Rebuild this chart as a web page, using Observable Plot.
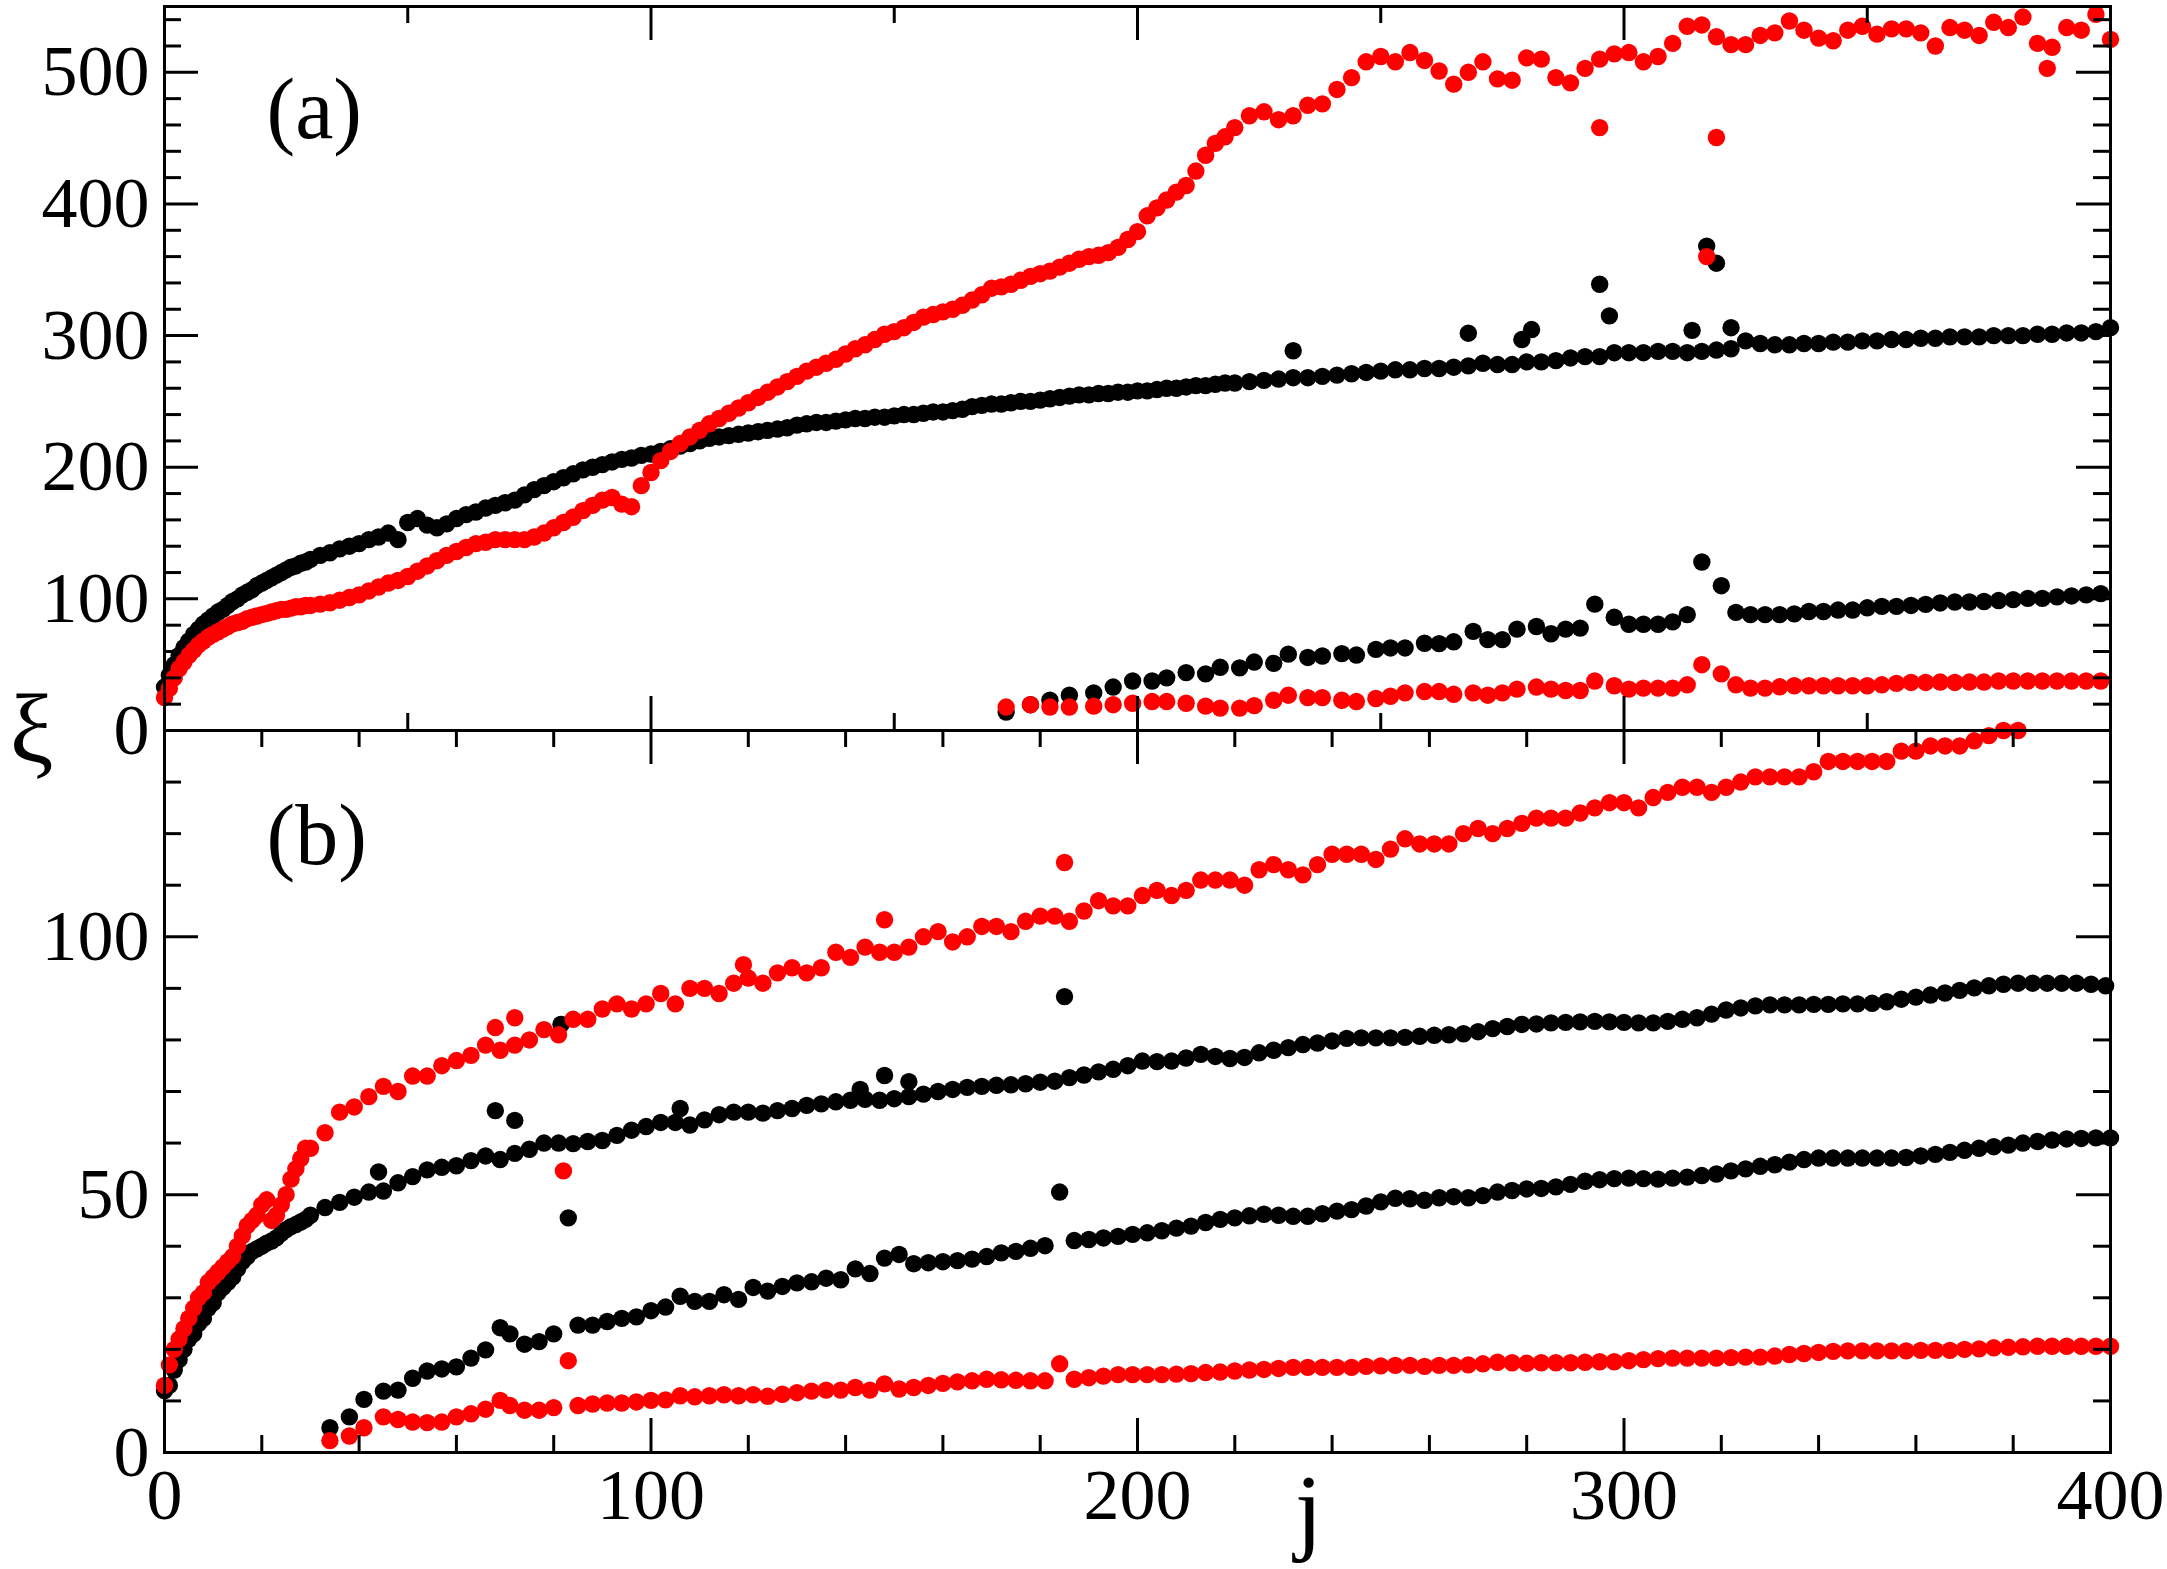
<!DOCTYPE html>
<html><head><meta charset="utf-8">
<script src="https://cdn.jsdelivr.net/npm/d3@7"></script>
<script src="https://cdn.jsdelivr.net/npm/@observablehq/plot@0.6"></script>
<style>
html,body{margin:0;padding:0;background:#fff;}
#fig{position:relative;width:2167px;height:1569px;overflow:hidden;background:#fff;}
#fig svg{position:absolute;left:0;}
</style></head><body><div id="fig"></div>
<script>
// ---------------- DATA ----------------
// site index of the upper curves in panel (a): every site to 29, every 2nd to 218, every 3rd after
const jUpperA = [...d3.range(0, 30), ...d3.range(30, 220, 2), ...d3.range(220, 401, 3)];
// site index of the upper curves in panel (b): every site to 29, then every 3rd
const jUpperB = [...d3.range(0, 30), ...d3.range(30, 400, 3)];

// panel (a), upper black curve
const blackUpperA = [
  33,42,50,57,63,68,73,77,81,84, 87,90,92,95,98,100,103,105,107,110,
  112,114,116,118,120,122,124,125,127,128,
  130,133,135,138,140,142,145,147,150,145, 158,161,156,154,157,161,164,166,169,171,
  173,175,179,183,186,189,192,195,198,200, 202,204,206,207,209,210,212,214,216,218,
  220,222,223,224,225,226,227,228,229,230, 232,233,234,234,235,236,237,237,238,238,
  239,240,240,241,242,242,243,244,246,247, 248,248,249,250,250,251,252,253,254,255,
  255,256,256,257,257,258,258,259,260,260, 261,262,262,263,264,
  264,265,266,267,268,268,269,270,271,272, 273,274,274,275,275,276,277,279,278,278,
  280,280,281,283,284,284,287,287,287,288, 288,287,288,289,290,296,294,293,293,294,
  294,295,295,296,296,297,297,298,298,299, 299,299,300,300,300,301,301,302,302,303,
  306
];
// panel (a), upper red curve
const redUpperA = [
  25,32,40,47,52,57,61,65,68,71, 73,75,77,79,81,82,83,85,86,87,
  88,89,90,91,92,92,93,94,94,95,
  95,96,97,99,101,103,106,109,112,114, 117,121,125,129,133,136,139,142,143,145,
  145,145,145,147,150,154,158,162,167,171, 175,177,172,170,186,196,205,212,218,223,
  228,233,237,241,245,249,253,257,261,265, 269,273,276,279,282,286,290,293,297,301,
  303,306,310,314,316,318,320,323,327,331, 336,337,339,342,345,347,349,352,355,358,
  360,361,363,367,373,379,391,397,403,409, 414,425,437,446,451,
  458,467,470,464,467,475,476,487,496,508, 512,508,515,509,501,491,500,508,495,494,
  511,510,496,492,503,510,514,515,508,512, 522,535,536,527,521,521,528,530,539,532,
  526,524,532,535,529,533,533,530,520,534, 532,528,538,534,542,522,519,534,532,544,
  525
];
const blackOutA_j = [232,268,279,281,295,297,314,317,319,322];
const blackOutA_v = [288.5,301.8,297,304.6,339,315,304,368,355,306];
const redOutA_j = [295,317,319,387];
const redOutA_v = [458,360,450.5,503];

// panel (a), lower curves
const jLowerA = [
  173,178,182,186,191,195,199,203,206,210, 214,217,221,224,228,231,235,238,242,245,
  249,252,255,259,262,265,269,272,275,278, 282,285,288,291,294,298,301,304,307,310,
  313,316,320,323,326,329,332,335,338,341, 344,347,350,353,356,359,362,365,368,371,
  374,377,380,383,386,389,392,395,398
];
const blackLowerA = [
  14,19.6,23,26.8,28.6,33,37.6,37.6,40,44, 43,48,47.6,52,51,58,55.5,56.6,58.4,57.3,
  61.6,62.7,62.7,66.3,66,67.4,75.3,69,69,77, 79,73.5,77,77.8,96,86,80.7,80.7,80.7,82.5,
  88,128,110,89.7,88,88,88,88.6,90.4,90.4, 91.5,91.5,93.2,94.3,94.3,95,95.8,96.9,97.6,97.6,
  98,98.7,99.4,100.4,100.4,101.5,102.2,103,104
];
const redLowerA = [
  17.8,19.6,17.8,17.8,18.5,19.6,20.7,22,22,20.7, 18.5,17,17,18.9,23,26.8,25,25,23,22,
  24.3,26,28.6,29.6,29.6,27.5,28.6,26.8,28.6,31.4, 33,31.4,30.4,30.4,37.6,34,31.4,32.2,32.2,32.2,
  34.7,50,43,34.7,32.2,32.2,33.2,34,34,34, 34,34,34,34.7,35.8,36.5,36.5,36.8,36.5,36.8,
  36.8,37.6,37.6,37.6,37.6,37.6,37.6,37.6,37.6
];

// panel (b), upper curves
const blackUpperB = [
  12,13,16,18,20,22,23,25,26,28, 29,31,32,33,34,35.6,37,38,39,39.5,
  40,40.6,41,41.6,42.5,43.2,43.8,44.2,44.7,45.2,
  46,47.5,48.5,49.5,50.5,50.7,52.3,53.5,54.8,55.3, 55.6,56.6,57.5,56.8,58,58.8,60,60,59.9,60.3,
  60.5,61.5,62.5,63.2,64,64,63.5,64.5,65.5,66, 66,65.8,66.3,66.7,67.3,67.6,68,68.3,68.5,68.3,
  68.6,69,69.5,70,70.4,70.8,71,71.2,71.3,71.5, 71.8,72,72.7,73.2,73.8,74.3,75,75.9,75.8,75.9,
  76.5,77.2,76.8,76.4,76.6,77.5,78,78.5,79.1,79.4, 79.8,80.3,80.4,80.4,80.4,80.5,80.7,80.9,81,81.2,
  81.6,82.2,82.6,83,83.1,83.3,83.4,83.5,83.6,83.5, 83.4,83.3,83.3,83.6,84,84.3,85,85.8,86.2,86.6,
  86.8,86.8,86.8,86.9,86.9,87,87,87.1,87.4,87.9, 88.3,88.7,89.1,89.6,90.1,90.5,90.8,91,91,91,
  91,91,90.8,90.5
];
const redUpperB = [
  13,17,20,22,24,26,28,30,31,33, 34,35,36,37,38,40,42,44,45,46,
  48,49,45,46,48,50,53,55,57,59,
  59,62,66,67,69,71,70,73,73,75, 76,77,79,78,79,80,82,81,84,84,
  86,87,86,87,89,87,90,90,89,91, 92,91,93,94,93,94,97,96,98,97,
  97,98,100,101,99,100,102,102,101,103, 104,104,103,105,107,106,106,108,109,108,
  109,111,111,111,110,113,114,113,112,114, 116,116,116,115,117,119,118,118,118,120,
  121,120,121,122,123,123,123,124,125,126, 126,125,127,128,129,129,128,129,130,131,
  131,131,131,132,134,134,134,134,134,136, 136,137,137,137,138,139,140,140
];
const blackOutB_j = [44,68,72,81.5,83,106,143,148,153,185];
const blackOutB_v = [54.4,66.3,64.4,83,45.5,66.7,70.4,73.1,71.9,88.4];
const redOutB_j = [68,72,82,83,119,148,185];
const redOutB_v = [82.4,84.3,54.6,17.8,94.6,103.3,114.4];

// panel (b), lower curves
const jLowerB = [
  34,38,41,45,48,51,54,57,60,63, 66,69,71,74,77,80,85,88,91,94,
  97,100,103,106,109,112,115,118,121,124, 127,130,133,136,139,142,145,148,
  ...d3.range(151, 401, 3)
];
const blackLowerB = [
  4.8,6.9,10.3,11.9,12.1,14.4,15.8,16.2,16.6,18.3, 19.9,24.2,23,21,21.5,23,24.7,24.7,25.4,26,
  26.3,27.5,28.2,30.3,29.3,29.3,30.6,29.7,32,31.3, 32.2,32.9,33.1,33.8,33.5,35.6,34.7,37.7,
  38.4,36.6,36.8,37,37.2,37.5,38,38.7,39,39.6, 40.1,50.5,41.1,41.3,41.6,41.9,42.3,42.6,43,43.5,
  43.9,44.6,45.2,45.5,45.9,46.2,46,45.8,45.8,46.3, 46.8,47.1,47.8,48.6,49.3,49.2,48.9,49.4,49.6,49.4,
  49.8,50.5,50.8,51.1,51.2,51.5,52,52.6,52.9,53.1, 53.2,53.1,53,53.2,53.4,53.7,54,54.6,55,55.5,
  55.8,56.3,56.8,57.1,57.1,57.1,57.1,57.1,57.1,57.2, 57.5,57.8,58.2,58.6,59,59.3,59.6,60,60.3,60.6,
  60.8,60.9,61,61
];
const redLowerB = [
  2.3,3.2,4.8,6.9,6.4,5.9,5.8,5.9,6.9,7.5, 8.4,10.1,9.1,8.2,8.2,8.7,9.1,9.4,9.6,9.6,
  9.8,10.1,10.2,11,10.8,11,11.2,11,11.2,10.9, 11.3,11.6,11.9,12.1,12.1,12.6,12.1,13.3,
  12.3,12.6,13,13.4,13.7,13.9,14.2,14.1,14,13.9, 13.9,17.2,14.2,14.5,14.8,15.1,15.1,15.1,15.1,15.2,
  15.3,15.5,15.6,15.8,16,16.1,16.3,16.5,16.5,16.5, 16.5,16.5,16.7,16.8,16.9,16.9,16.7,16.9,16.9,17,
  17.2,17.5,17.4,17.3,17.4,17.4,17.4,17.5,17.6,17.6, 17.8,18,18.2,18.3,18.3,18.3,18.3,18.4,18.5,18.5,
  18.7,19,19.2,19.4,19.6,19.7,19.7,19.7,19.7,19.7, 19.8,19.8,19.8,20,20.1,20.3,20.4,20.5,20.6,20.6,
  20.6,20.6,20.6,20.6
];

// axis ticks
const xMajor = [0, 100, 200, 300, 400];
const xMinorA = [50, 150, 250, 350];
const xMinorB = d3.range(20, 400, 20).filter(d => d % 100 !== 0);
const yLabelsA = [0, 100, 200, 300, 400, 500];
const yMinorA = d3.range(20, 550, 20).filter(d => d % 100 !== 0);
const yLabelsB = [0, 50, 100];
const yMinorB = d3.range(10, 140, 10).filter(d => d % 50 !== 0);

// ---------------- DRAWING ----------------
const mk = (js, vs) => vs.map((v, i) => ({j: js[i], v})).filter(d => d.j != null);
const FONT = "'Liberation Serif','Times New Roman',Times,serif";
const W = 2167, ML = 164, MR = 57, PW = W - ML - MR;
const R = 8.7, TW = 3, MAJ = 34, MIN = 17, FS = 72;
const red = "#ff0000", black = "#000000";

function xTicks(vals, len, ph) {
  return [
    Plot.tickX(vals, {x: d => d, insetTop: ph - len, stroke: black, strokeWidth: TW}),
    Plot.tickX(vals, {x: d => d, insetBottom: ph - len, stroke: black, strokeWidth: TW})
  ];
}
function yTicks(vals, len) {
  return [
    Plot.tickY(vals, {y: d => d, insetRight: PW - len, stroke: black, strokeWidth: TW}),
    Plot.tickY(vals, {y: d => d, insetLeft: PW - len, stroke: black, strokeWidth: TW})
  ];
}
function dots(js, vs, color) {
  return Plot.dot(mk(js, vs), {x: "j", y: "v", r: R, fill: color});
}
const svgStyle = {background: "transparent", overflow: "visible", fontFamily: FONT, color: "black"};

// panel (a)
const HA = 760, MTA = 6, MBA = 30, PHA = HA - MTA - MBA;
const plotA = Plot.plot({
  width: W, height: HA, marginLeft: ML, marginRight: MR, marginTop: MTA, marginBottom: MBA,
  style: svgStyle,
  x: {domain: [0, 400], axis: null},
  y: {domain: [0, 550], axis: null},
  marks: [
    dots(jUpperA, blackUpperA, black),
    dots(jLowerA, blackLowerA, black),
    dots(blackOutA_j, blackOutA_v, black),
    dots(jUpperA, redUpperA, red),
    dots(jLowerA, redLowerA, red),
    dots(redOutA_j, redOutA_v, red),
    ...xTicks(xMajor, MAJ, PHA),
    ...xTicks(xMinorA, MIN, PHA),
    ...yTicks(yLabelsA, MAJ),
    ...yTicks(yMinorA, MIN),
    Plot.frame({stroke: black, strokeWidth: TW}),
    Plot.axisY({ticks: yLabelsA, tickSize: 0, tickPadding: 15, fontSize: FS, label: null}),
    Plot.text(["(a)"], {text: d => d, frameAnchor: "top-left", dx: 102, dy: 104, textAnchor: "start", lineAnchor: "middle", fontSize: 86}),
    Plot.text(["ξ"], {text: d => d, frameAnchor: "bottom-left", dx: -133, dy: 0, textAnchor: "middle", lineAnchor: "middle", fontSize: 98})
  ]
});

// panel (b)
const TOPB = 700, HB = 869, MTB = 30, MBB = 117, PHB = HB - MTB - MBB;
const plotB = Plot.plot({
  width: W, height: HB, marginLeft: ML, marginRight: MR, marginTop: MTB, marginBottom: MBB,
  style: svgStyle,
  x: {domain: [0, 400], axis: null},
  y: {domain: [0, 140], axis: null},
  marks: [
    dots(jUpperB, blackUpperB, black),
    dots(jLowerB, blackLowerB, black),
    dots(blackOutB_j, blackOutB_v, black),
    dots(jUpperB, redUpperB, red),
    dots(jLowerB, redLowerB, red),
    dots(redOutB_j, redOutB_v, red),
    ...xTicks(xMajor, MAJ, PHB),
    ...xTicks(xMinorB, MIN, PHB),
    ...yTicks(yLabelsB, MAJ),
    ...yTicks(yMinorB, MIN),
    Plot.frame({stroke: black, strokeWidth: TW}),
    Plot.axisY({ticks: yLabelsB, tickSize: 0, tickPadding: 15, fontSize: FS, label: null}),
    Plot.axisX({ticks: xMajor, tickSize: 0, tickPadding: 15, fontSize: FS, label: null}),
    Plot.text(["(b)"], {text: d => d, frameAnchor: "top-left", dx: 102, dy: 106, textAnchor: "start", lineAnchor: "middle", fontSize: 86}),
    Plot.text(["j"], {text: d => d, frameAnchor: "bottom", dx: 171, dy: 58, textAnchor: "middle", lineAnchor: "middle", fontSize: 98})
  ]
});

const fig = document.getElementById("fig");
plotA.style.top = "0px";
plotB.style.top = TOPB + "px";
fig.appendChild(plotA);
fig.appendChild(plotB);
</script>
</body></html>
